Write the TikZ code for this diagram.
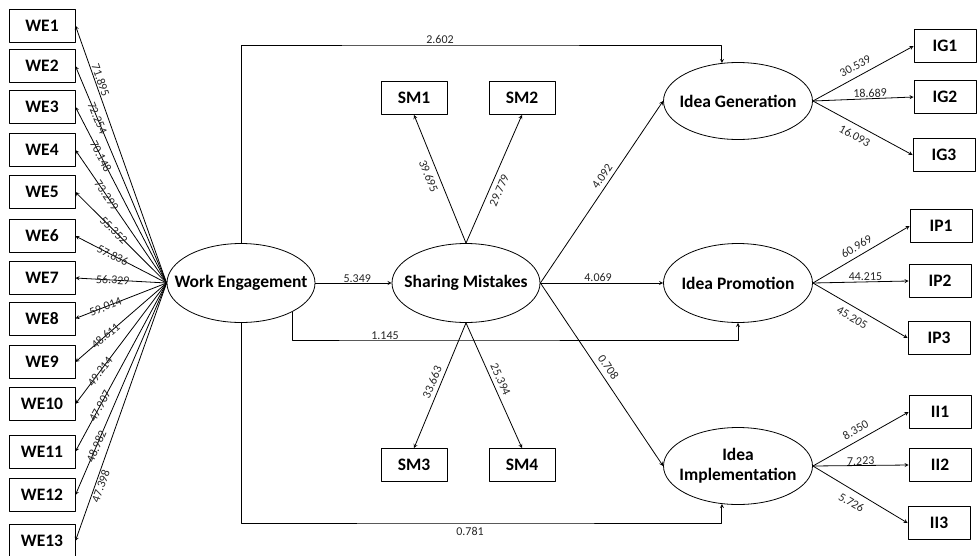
\documentclass[tikz,border=0pt]{standalone}
\usepackage{fontspec}
\setmainfont{Carlito}
\usetikzlibrary{shapes.geometric}
\tikzset{
  latent/.style={draw, ellipse, minimum width=148pt, minimum height=79pt, inner xsep=-16pt, inner ysep=0pt, align=center, font=\fontsize{17.5}{20}\selectfont\bfseries},
  indicator/.style={draw, rectangle, minimum width=66pt, minimum height=33pt, inner sep=0pt, font=\fontsize{17.5}{20}\selectfont\bfseries},
  outbox/.style={indicator, minimum width=62pt},
  coef/.style={font=\fontsize{12}{14}\selectfont, inner sep=1pt, text=black!85},
  online/.style={anchor=center},
}
\begin{document}
\begin{tikzpicture}[x=1pt, y=-1pt, line width=0.8pt, line join=round, >=stealth]
\useasboundingbox (0,0) rectangle (980,555);
% latent variables
\node[latent] (we) at (241,283) {Work Engagement};
\node[latent] (sm) at (466,283) {Sharing Mistakes};
\node[latent, minimum width=149pt, minimum height=77pt] (ig) at (738,101) {Idea Generation};
\node[latent, minimum width=149pt] (ip) at (738,283) {Idea Promotion};
\node[latent, minimum width=149pt, minimum height=77pt] (ii) at (738,466) {Idea\\Implementation};
% work engagement indicators
\foreach \i/\y/\v/\p/\s in {1/25.5/71.895/0.78/above, 2/66/72.254/0.76/online, 3/107/70.148/0.72/online, 4/150/73.299/0.66/online, 5/192/55.352/0.58/online, 6/236/57.836/0.59/online, 7/278/56.329/0.59/online, 8/318.5/59.014/0.67/online, 9/362/48.611/0.67/online, 10/404/49.214/0.73/online, 11/451.5/47.907/0.73/online, 12/495/48.982/0.77/online, 13/541/47.398/0.78/below}
{
 \node[indicator] (we\i) at (42,\y) {WE\i};
 \draw[->] (we.west) -- node[coef, sloped, pos=\p, \s] {\v} (we\i.east);
}
% sharing mistakes indicators
\node[indicator] (sm1) at (414,98) {SM1};
\node[indicator] (sm2) at (522,98) {SM2};
\node[indicator] (sm3) at (414,465) {SM3};
\node[indicator] (sm4) at (522,465) {SM4};
\draw[->] (sm.north) -- node[coef, sloped, pos=0.55, below=4pt] {39.695} (sm1.south);
\draw[->] (sm.north) -- node[coef, sloped, pos=0.44, below=4pt] {29.779} (sm2.south);
\draw[->] (sm.south) -- node[coef, sloped, pos=0.5, above=3pt] {33.663} (sm3.north);
\draw[->] (sm.south) -- node[coef, sloped, pos=0.48, above=3pt] {25.394} (sm4.north);
% outcome indicators
\node[outbox] (ig1) at (945,46) {IG1};
\node[outbox] (ig2) at (945,97) {IG2};
\node[outbox] (ig3) at (944,155) {IG3};
\node[outbox] (ip1) at (941,226) {IP1};
\node[outbox] (ip2) at (940,281) {IP2};
\node[outbox] (ip3) at (939,338) {IP3};
\node[outbox] (ii1) at (940,412) {II1};
\node[outbox] (ii2) at (940,465) {II2};
\node[outbox] (ii3) at (939,523) {II3};
\draw[->] (ig.east) -- node[coef, sloped, pos=0.47, above=5pt] {30.539} (ig1.west);
\draw[->] (ig.east) -- node[coef, sloped, pos=0.57, above] {18.689} (ig2.west);
\draw[->] (ig.east) -- node[coef, sloped, pos=0.47, below=5pt] {16.093} (ig3.west);
\draw[->] (ip.east) -- node[coef, sloped, pos=0.5, above=4pt] {60.969} (ip1.west);
\draw[->] (ip.east) -- node[coef, sloped, pos=0.55, above] {44.215} (ip2.west);
\draw[->] (ip.east) -- node[coef, sloped, pos=0.47, below=5pt] {45.205} (ip3.west);
\draw[->] (ii.east) -- node[coef, sloped, pos=0.5, above=5pt] {8.350} (ii1.west);
\draw[->] (ii.east) -- node[coef, sloped, pos=0.5, above=-1pt] {7.223} (ii2.west);
\draw[->] (ii.east) -- node[coef, sloped, pos=0.47, below=6pt] {5.726} (ii3.west);
% structural paths
\draw[->] (we) -- node[coef, above=-1pt, pos=0.55] {5.349} (sm);
\draw[->] (sm.east) -- node[coef, sloped, pos=0.56, above=3pt] {4.092} (ig.west);
\draw[->] (sm.east) -- node[coef, above, pos=0.47] {4.069} (ip.west);
\draw[->] (sm.east) -- node[coef, sloped, pos=0.49, above=4pt] {0.708} (ii.west);
\coordinate (topbend) at (440,45);
\coordinate (midbend) at (385,340);
\coordinate (botbend) at (470,523);
\draw[->] (we.north) |- (topbend) node[coef, above] {2.602} -| (ig.113);
\draw[->] (we.331) |- (midbend) node[coef, above=-1pt] {1.145} -| (ip.south);
\draw[->] (we.south) |- (botbend) node[coef, below=3pt] {0.781} -| (ii.247);
\end{tikzpicture}
\end{document}
